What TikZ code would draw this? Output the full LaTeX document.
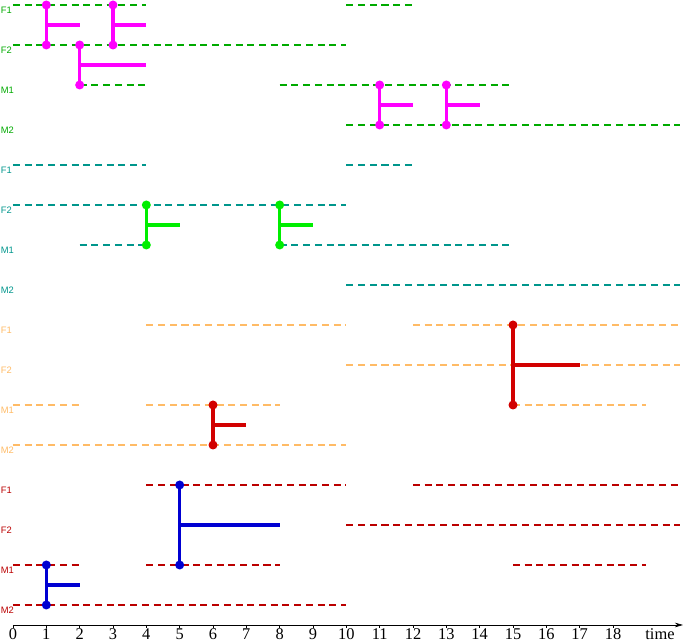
\documentclass[tikz,border=0pt]{standalone}
\usepackage{fontspec}
\setmainfont{Liberation Serif}
\setsansfont{Liberation Sans}
\usetikzlibrary{arrows.meta}
\definecolor{cgreen}{RGB}{0,170,0}
\definecolor{cteal}{RGB}{0,150,140}
\definecolor{corange}{RGB}{255,187,102}
\definecolor{cdred}{RGB}{187,0,0}
\definecolor{cmag}{RGB}{255,0,255}
\definecolor{clime}{RGB}{0,238,0}
\definecolor{cred}{RGB}{210,0,0}
\definecolor{cblue}{RGB}{0,0,210}
\newcommand\hseg[4]{\draw[hl,#1] (#2,#4) -- (#3,#4);}
\newcommand\branch[6]{%
  \coordinate (#1a) at (#3,#4);
  \coordinate (#1b) at (#3,#5);
  \coordinate (#1m) at (#3,{(#4+#5)/2});
  \coordinate (#1e) at ({#3+#6},{(#4+#5)/2});
  \draw[conn,#2] (#1a) -- (#1b);
  \draw[conn,#2] (#1m) -- (#1e);
  \fill[#2] (#1a) circle (0.135);
  \fill[#2] (#1b) circle (0.135);}
\begin{document}
\begin{tikzpicture}[x=1cm,y=1cm,
  hl/.style={dash pattern=on 6pt off 4pt, line width=1.8pt},
  conn/.style={line width=2.8pt},
  lab/.style={font=\sffamily\fontsize{8}{8}\selectfont, anchor=west, inner sep=0pt},
  num/.style={font=\fontsize{14}{15}\selectfont, anchor=base, inner sep=0pt}]
\useasboundingbox (-0.39,-0.54) rectangle (20.1,18.75);
% labels
\foreach \c/\yy in {cgreen/18.6, cteal/13.8, corange/9.0, cdred/4.2}{
  \node[lab,text=\c] at (-0.37,\yy-0.17) {F1};
  \node[lab,text=\c] at (-0.37,\yy-1.2-0.17) {F2};
  \node[lab,text=\c] at (-0.37,\yy-2.4-0.17) {M1};
  \node[lab,text=\c] at (-0.37,\yy-3.6-0.17) {M2};
}
% group 1 (green)
\hseg{cgreen}{0}{4}{18.6}\hseg{cgreen}{10}{12}{18.6}
\hseg{cgreen}{0}{10}{17.4}
\hseg{cgreen}{2}{4}{16.2}\hseg{cgreen}{8}{15}{16.2}
\hseg{cgreen}{10}{20}{15.0}
% group 2 (teal)
\hseg{cteal}{0}{4}{13.8}\hseg{cteal}{10}{12}{13.8}
\hseg{cteal}{0}{10}{12.6}
\hseg{cteal}{2}{4}{11.4}\hseg{cteal}{8}{15}{11.4}
\hseg{cteal}{10}{20}{10.2}
% group 3 (orange)
\hseg{corange}{4}{10}{9.0}\hseg{corange}{12}{20}{9.0}
\hseg{corange}{10}{20}{7.8}
\hseg{corange}{0}{2}{6.6}\hseg{corange}{4}{8}{6.6}\hseg{corange}{15}{19}{6.6}
\hseg{corange}{0}{10}{5.4}
% group 4 (dark red)
\hseg{cdred}{4}{10}{4.2}\hseg{cdred}{12}{20}{4.2}
\hseg{cdred}{10}{20}{3.0}
\hseg{cdred}{0}{2}{1.8}\hseg{cdred}{4}{8}{1.8}\hseg{cdred}{15}{19}{1.8}
\hseg{cdred}{0}{10}{0.6}
% connectors
\branch{ma}{cmag}{1}{18.6}{17.4}{1}
\branch{mb}{cmag}{3}{18.6}{17.4}{1}
\branch{mc}{cmag}{2}{17.4}{16.2}{2}
\branch{md}{cmag}{11}{16.2}{15.0}{1}
\branch{me}{cmag}{13}{16.2}{15.0}{1}
\branch{ga}{clime}{4}{12.6}{11.4}{1}
\branch{gb}{clime}{8}{12.6}{11.4}{1}
\branch{ra}{cred}{15}{9.0}{6.6}{2}
\branch{rb}{cred}{6}{6.6}{5.4}{1}
\branch{ba}{cblue}{5}{4.2}{1.8}{3}
\branch{bb}{cblue}{1}{1.8}{0.6}{1}
% axis
\coordinate (o) at (0,0);
\coordinate (xend) at (20.1,0);
\draw[line width=0.6pt,-{Stealth[length=7pt,width=4pt]}] (o) -- (xend);
\foreach \i in {0,...,18}{
  \draw[line width=0.6pt] (\i,0) -- (\i,-0.09);
  \node[num] at (\i,-0.45) {\i};
}
\node[num] (tl) at (19.41,-0.45) {time};
\end{tikzpicture}
\end{document}
